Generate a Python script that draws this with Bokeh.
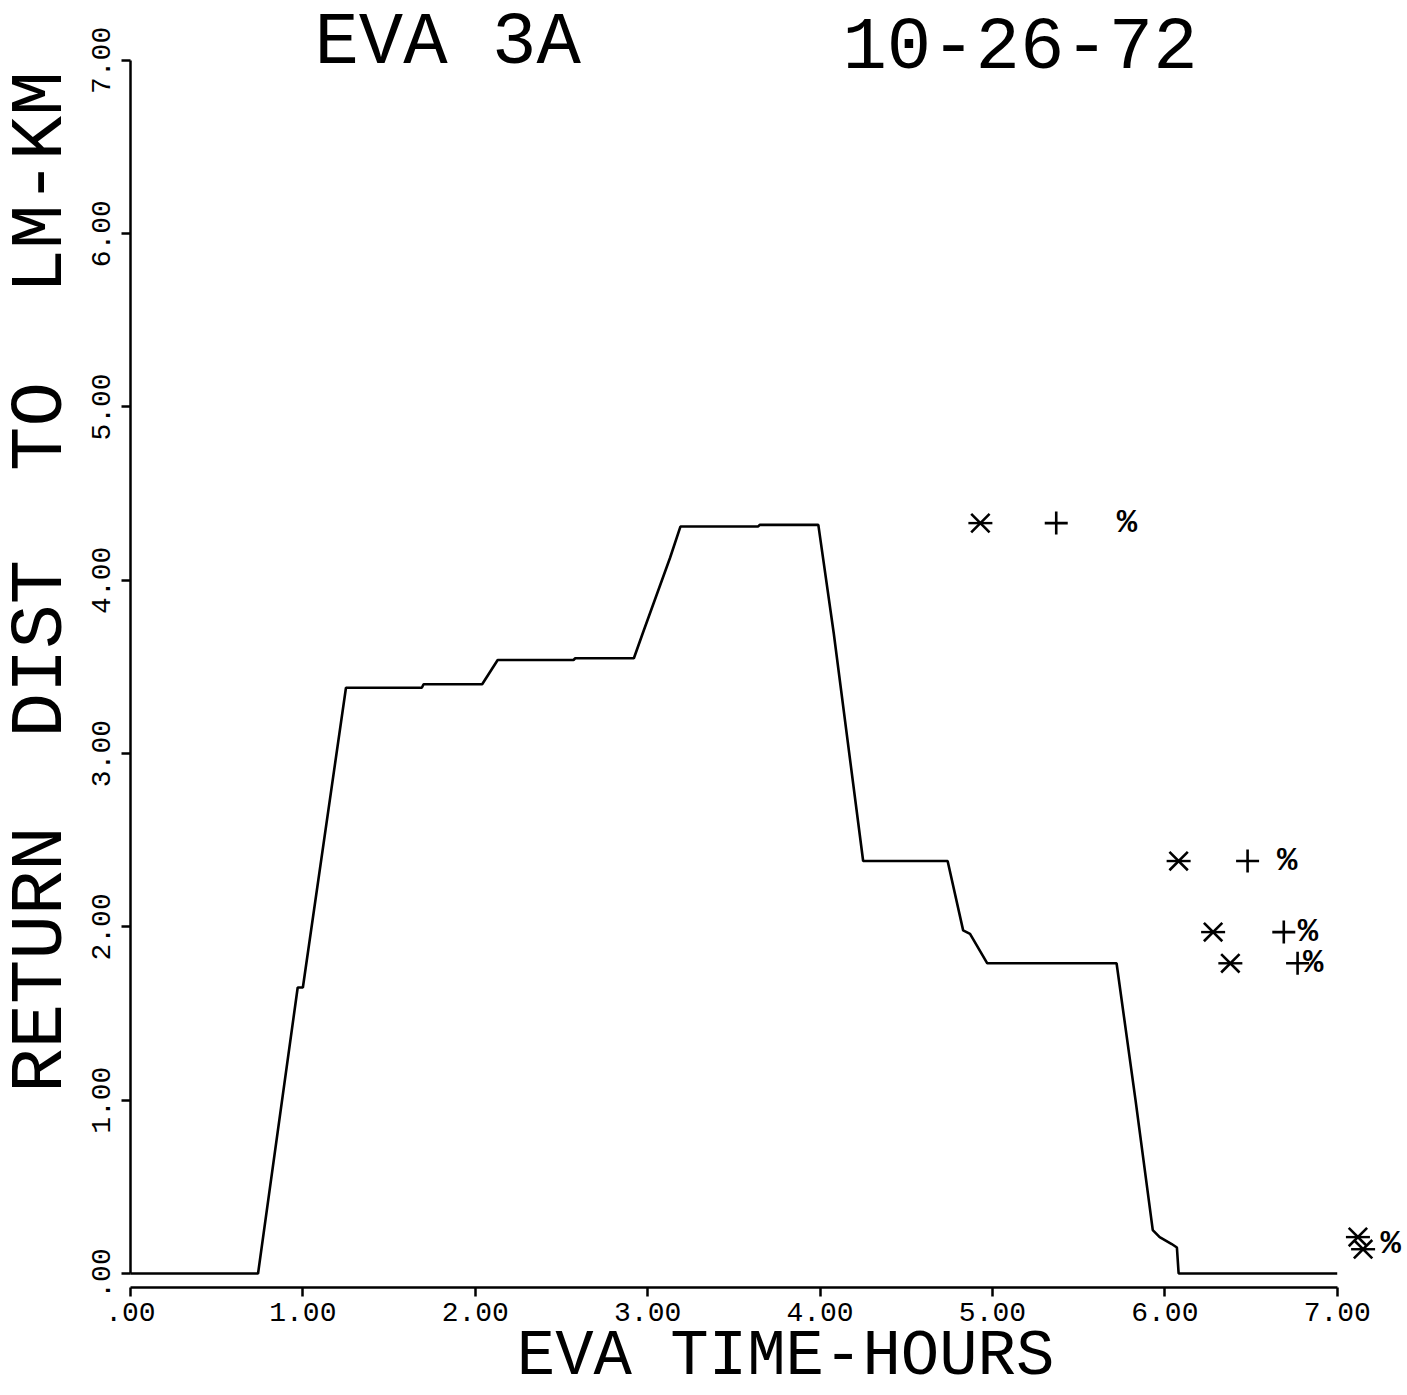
import math
from bokeh.plotting import figure
from bokeh.models import Range1d, FixedTicker, Label
from bokeh.core.properties import value
from bokeh.embed import file_html
from bokeh.resources import INLINE

# ---- data ----
time_hours = [0.00, 0.74, 0.97, 1.00, 1.25, 1.69, 1.70, 2.04, 2.13, 2.57,
              2.58, 2.92, 2.97, 3.13, 3.19, 3.64, 3.65, 3.99, 4.08, 4.25,
              4.74, 4.83, 4.87, 4.97, 5.72, 5.83, 5.93, 5.97, 6.04, 6.07,
              6.08, 7.00]
return_km = [0.00, 0.00, 1.65, 1.65, 3.38, 3.38, 3.40, 3.40, 3.54, 3.54,
             3.55, 3.55, 3.69, 4.13, 4.31, 4.31, 4.32, 4.32, 3.69, 2.38,
             2.38, 1.98, 1.96, 1.79, 1.79, 1.00, 0.25, 0.21, 0.17, 0.15,
             0.00, 0.00]

star_t = [4.93, 6.08, 6.28, 6.38, 7.12, 7.15]
star_km = [4.33, 2.38, 1.97, 1.79, 0.21, 0.14]
plus_t = [5.37, 6.48, 6.69, 6.77]
plus_km = [4.33, 2.38, 1.97, 1.79]
pct_t = [5.78, 6.71, 6.83, 6.86, 7.31]
pct_km = [4.33, 2.38, 1.97, 1.79, 0.17]

tick_values = [0, 1, 2, 3, 4, 5, 6, 7]
x_tick_labels = [".00", "1.00", "2.00", "3.00", "4.00", "5.00", "6.00", "7.00"]
y_tick_labels = [".00", "1.00", "2.00", "3.00", "4.00", "5.00", "6.00", "7.00"]

title_left = "EVA 3A"
title_right = "10-26-72"
x_label = "EVA TIME-HOURS"
y_label = "RETURN \u00a0DIST \u00a0TO \u00a0LM-KM"

FONT = "Liberation Mono"

p = figure(width=1405, height=1393,
           x_range=Range1d(-0.754, 7.396), y_range=Range1d(-0.6925, 7.3456),
           output_backend="svg", toolbar_location=None,
           min_border_left=0, min_border_right=0,
           min_border_top=0, min_border_bottom=0)
p.outline_line_color = None
p.grid.visible = False
p.background_fill_color = "white"
p.border_fill_color = "white"

for ax, labels in ((p.xaxis[0], x_tick_labels), (p.yaxis[0], y_tick_labels)):
    ax.ticker = FixedTicker(ticks=tick_values)
    ax.bounds = (0, 7)
    ax.major_label_overrides = {float(v): l for v, l in zip(tick_values, labels)}
    ax.axis_line_color = "black"
    ax.axis_line_width = 2.5
    ax.major_tick_line_color = "black"
    ax.major_tick_line_width = 2.5
    ax.major_tick_in = 0
    ax.major_tick_out = 9
    ax.minor_tick_line_color = None
    ax.major_label_text_font = FONT
    ax.major_label_text_font_size = "28px"
    ax.major_label_text_color = "black"

p.xaxis[0].fixed_location = -0.081
p.yaxis[0].fixed_location = 0
p.xaxis[0].major_label_standoff = 6
p.yaxis[0].major_label_orientation = "parallel"
p.yaxis[0].major_label_standoff = 11

# distance curve
p.line(time_hours, return_km, line_color="black", line_width=2.6)

# markers
p.scatter(star_t, star_km, marker="x", size=26, line_color="black", line_width=2.6)
p.scatter(star_t, star_km, marker="dash", size=24, line_color="black", line_width=2.4)
p.scatter(plus_t, plus_km, marker="cross", size=23, line_color="black", line_width=2.6)
p.text(pct_t, pct_km, text=["%"] * len(pct_t), text_font=value(FONT),
       text_font_size="34px", text_font_style="bold", text_align="center",
       text_baseline="middle", text_color="black")

# texts
def add_label(x, y, text, size, angle=0.0, baseline="alphabetic"):
    p.add_layout(Label(x=x, y=y, text=text, angle=angle,
                       text_font=FONT, text_font_size=size,
                       text_align="center", text_baseline=baseline,
                       text_color="black"))

add_label(1.84, 7.098, title_left, "74px")
add_label(5.16, 7.098, title_right, "74px")
add_label(3.80, -0.69, x_label, "64px", baseline="bottom")
add_label(-0.5186, 3.99, y_label, "74px", angle=math.pi / 2)

open("out.html", "w").write(file_html(p, INLINE))
